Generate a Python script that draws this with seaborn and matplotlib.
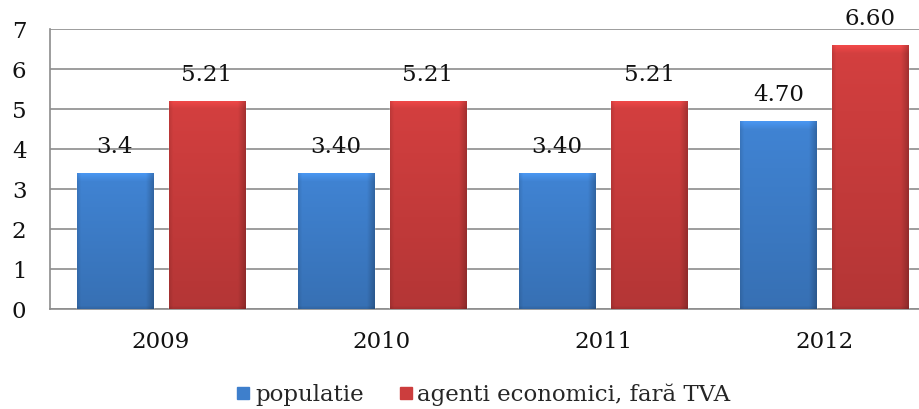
import numpy as np
import pandas as pd
import matplotlib
matplotlib.use("Agg")
import matplotlib.pyplot as plt
from matplotlib.colors import to_rgb
from matplotlib.lines import Line2D
import seaborn as sns

# Values per year
years = ["2009", "2010", "2011", "2012"]
populatie = [3.4, 3.40, 3.40, 4.70]
agenti = [5.21, 5.21, 5.21, 6.60]
labels_populatie = ["3.4", "3.40", "3.40", "4.70"]
labels_agenti = ["5.21", "5.21", "5.21", "6.60"]
series = ["populatie", "agenti economici, fară TVA"]
colors = ["#3E7FCC", "#CC3D3D"]

df = pd.DataFrame({
    "an": years * 2,
    "valoare": populatie + agenti,
    "serie": [series[0]] * len(years) + [series[1]] * len(years),
})

sns.set_style("white")
plt.rcParams["font.family"] = ["DejaVu Serif"]
FS = 16.5

fig = plt.figure(figsize=(9.2, 4.09), dpi=100)
ax = fig.add_axes([50 / 920, 100 / 409, 885 / 920, 280 / 409])

sns.barplot(data=df, x="an", y="valoare", hue="serie", palette=colors,
            width=0.832, gap=0.173, saturation=1, legend=False, ax=ax,
            zorder=3)


def shade_bar(patch, base):
    """Paint a bevelled gradient over a bar, clipped to its rectangle."""
    x0, y0 = patch.get_x(), patch.get_y()
    w, h = patch.get_width(), patch.get_height()
    ny = max(int(round(h * 40)), 2)
    nx = 76
    rows = np.arange(ny)[:, None]
    X = np.linspace(0, 1, nx)[None, :]
    f = 1.04 - 0.16 * rows / ny + 0 * X
    f = f * (1 - 0.22 * np.clip((X - 0.9) / 0.1, 0, 1))
    f = f * (1 - 0.10 * np.clip((0.05 - X) / 0.05, 0, 1))
    bevel = np.clip((8 - rows) / 8, 0, 1)
    f = f * (1 + 0.14 * bevel)
    f = f * (1 - 0.12 * np.clip((rows - (ny - 4)) / 4, 0, 1))
    img = np.clip(np.array(to_rgb(base))[None, None, :] * f[..., None], 0, 1)
    im = ax.imshow(img, extent=(x0, x0 + w, y0, y0 + h), aspect="auto",
                   interpolation="bilinear", zorder=patch.get_zorder() + 0.1)
    im.set_clip_path(patch)


for container, base in zip(ax.containers, colors):
    for patch in container:
        shade_bar(patch, base)

for container, labels in zip(ax.containers, [labels_populatie, labels_agenti]):
    ax.bar_label(container, labels=labels, padding=10.5, fontsize=FS,
                 color="#111111", zorder=5)

ax.set_xlim(-0.5, 3.5)
ax.set_ylim(0, 7)
ax.set_yticks(range(0, 8))
ax.set_xlabel("")
ax.set_ylabel("")

grid_color = "#8C8C8C"
ax.yaxis.grid(True, color=grid_color, linewidth=1.2, zorder=0)
ax.set_axisbelow(True)
for side in ["top", "right"]:
    ax.spines[side].set_visible(False)
for side in ["left", "bottom"]:
    ax.spines[side].set_color(grid_color)
    ax.spines[side].set_linewidth(1.2)

ax.tick_params(axis="y", length=0, pad=17, labelsize=FS, labelcolor="#111111")
ax.tick_params(axis="x", length=0, pad=16, labelsize=FS, labelcolor="#111111")

handles = [Line2D([], [], linestyle="none", marker="s", markersize=8,
                  markerfacecolor=c, markeredgecolor=c) for c in colors]
fig.legend(handles, series, loc="center", bbox_to_anchor=(0.525, 0.035),
           ncol=2, frameon=False, fontsize=FS, handletextpad=0.15,
           columnspacing=1.5, handlelength=0.7)

fig.savefig("out.png", dpi=100)
